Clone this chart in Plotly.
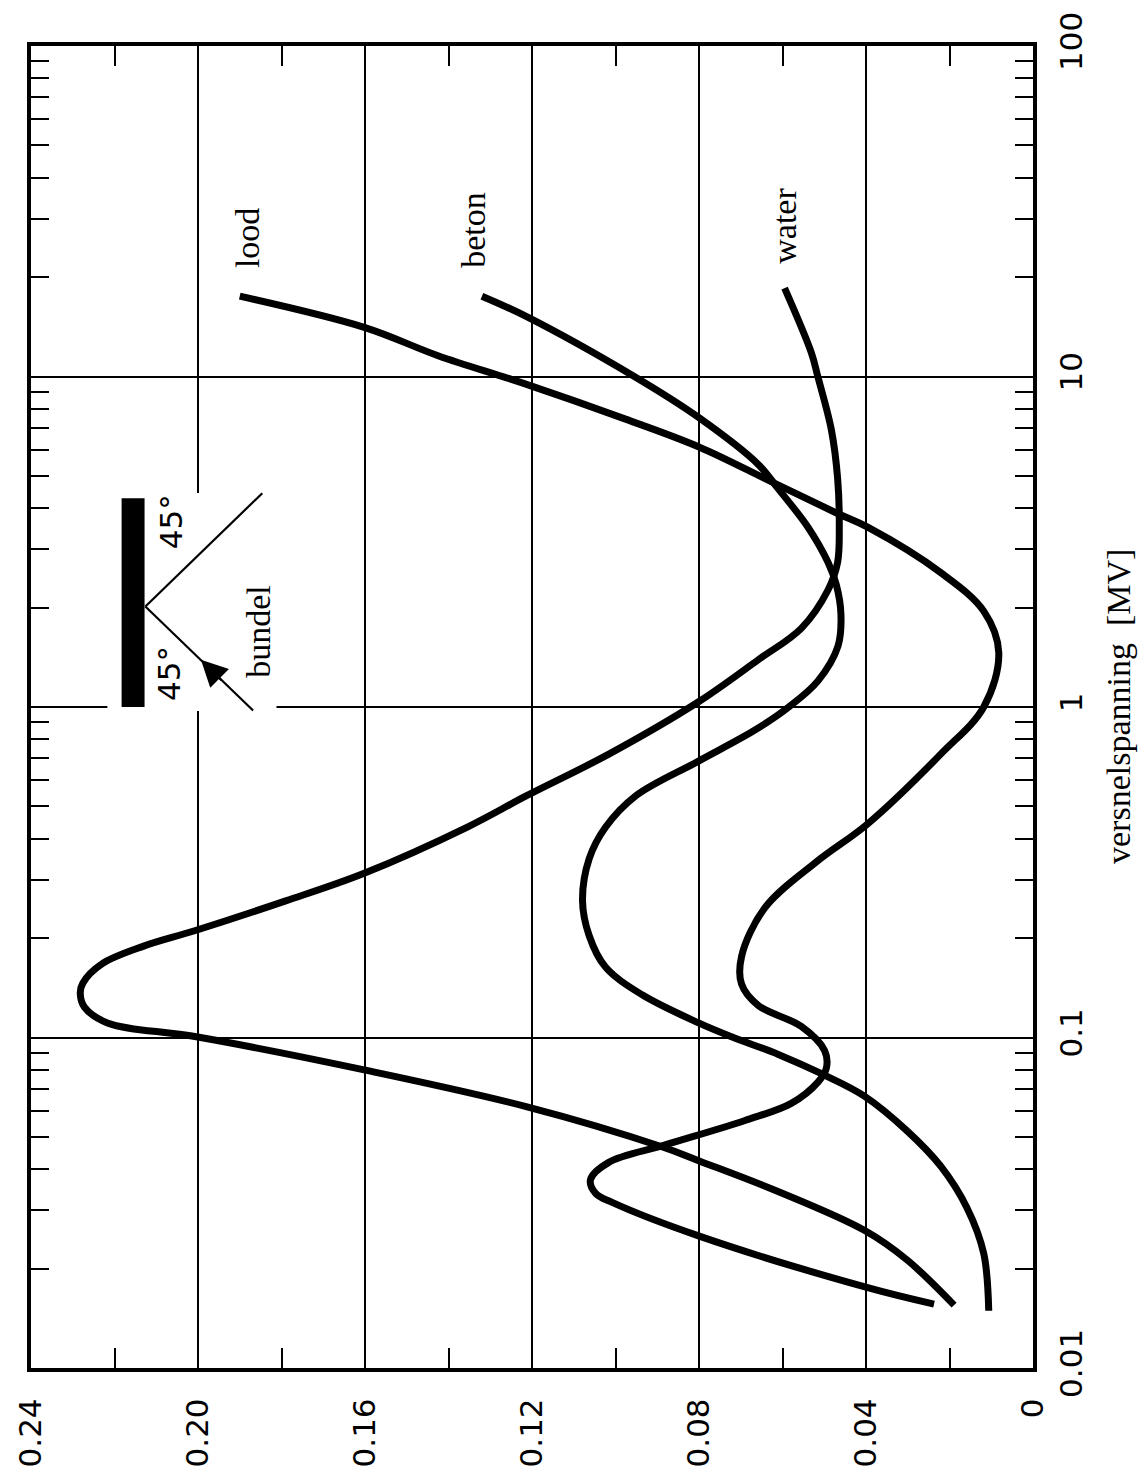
import plotly.graph_objects as go
import math

# Albedo versus accelerating voltage for reflection at 45 degrees in / 45 degrees out
lood_mv = [17.5, 14.06, 11.56, 9.53, 7.43, 6.12, 4.80, 3.85, 3.50, 2.55, 1.95, 1.46,
           1.0, 0.72, 0.443, 0.339, 0.247, 0.176, 0.145, 0.125, 0.108, 0.0912, 0.0807,
           0.0733, 0.0632, 0.0561, 0.0473, 0.0419, 0.0371, 0.0337, 0.0317, 0.0251,
           0.0175, 0.0156]
lood_albedo = [0.190, 0.160, 0.1425, 0.122, 0.0976, 0.080, 0.0626, 0.0468, 0.0396,
               0.0221, 0.0118, 0.0082, 0.0118, 0.0221, 0.0396, 0.0520, 0.0642, 0.0698,
               0.0698, 0.0658, 0.0555, 0.0499, 0.0495, 0.0515, 0.0579, 0.069, 0.0881,
               0.1016, 0.106, 0.1047, 0.1008, 0.0801, 0.0396, 0.0237]

beton_mv = [17.5, 15.2, 9.95, 7.52, 5.42, 4.57, 3.50, 2.74, 2.34, 1.905, 1.53, 1.20,
            1.0, 0.853, 0.686, 0.538, 0.4325, 0.3475, 0.2594, 0.2032, 0.1633, 0.1346,
            0.1107, 0.1005, 0.0889, 0.0769, 0.0665, 0.0521, 0.0408, 0.0305, 0.0222,
            0.0149]
beton_albedo = [0.132, 0.1214, 0.0952, 0.0801, 0.0658, 0.061, 0.0539, 0.0491, 0.0471,
                0.046, 0.0467, 0.0515, 0.0585, 0.0665, 0.0801, 0.0952, 0.1024, 0.1063,
                0.1079, 0.1063, 0.1024, 0.0936, 0.0801, 0.0722, 0.061, 0.0499, 0.0404,
                0.0301, 0.0221, 0.0158, 0.0118, 0.0106]

water_mv = [18.5, 11.8, 9.95, 6.90, 4.92, 3.50, 2.74, 2.26, 1.73, 1.39, 1.037, 0.72,
            0.538, 0.4325, 0.314, 0.259, 0.210, 0.189, 0.167, 0.146, 0.136, 0.1236,
            0.1107, 0.1005, 0.0798, 0.0618, 0.0467, 0.0424, 0.0345, 0.0261, 0.0212,
            0.0155]
water_albedo = [0.0595, 0.0531, 0.0515, 0.0483, 0.0468, 0.0464, 0.0468, 0.0491, 0.0555,
                0.0658, 0.0801, 0.1016, 0.1214, 0.1356, 0.1602, 0.1790, 0.2010, 0.2130,
                0.2230, 0.2276, 0.2282, 0.2272, 0.2217, 0.2004, 0.1602, 0.1214, 0.0889,
                0.0801, 0.0618, 0.0404, 0.0301, 0.0189]

albedo_ticks = [0, 0.04, 0.08, 0.12, 0.16, 0.20, 0.24]
albedo_ticktext = ["0", "0.04", "0.08", "0.12", "0.16", "0.20", "0.24"]
albedo_minor = [0.02, 0.06, 0.10, 0.14, 0.18, 0.22]
voltage_ticks = [0.01, 0.1, 1, 10, 100]
voltage_ticktext = ["0.01", "0.1", "1", "10", "100"]
voltage_minor = [m * d for d in (0.01, 0.1, 1, 10) for m in range(2, 10)]

series = [
    ("lood", lood_mv, lood_albedo),
    ("beton", beton_mv, beton_albedo),
    ("water", water_mv, water_albedo),
]

serif = "Liberation Serif, Times New Roman, serif"
sans = "DejaVu Sans, sans-serif"

fig = go.Figure()
for name, mv, alb in series:
    fig.add_trace(go.Scatter(
        x=alb, y=mv, mode="lines", name=name,
        line=dict(color="black", width=7, shape="spline", smoothing=1.0),
        hoverinfo="skip",
    ))

# Curve labels placed just past the high-voltage end of each curve
label_pos = {"lood": (0.1883, 26.2), "beton": (0.134, 27.7), "water": (0.0595, 28.5)}
annotations = []
for name, (xv, yv) in label_pos.items():
    annotations.append(dict(
        x=xv, y=math.log10(yv), xref="x", yref="y", text=name, showarrow=False,
        textangle=-90, font=dict(family=serif, size=34, color="black"),
        xanchor="center", yanchor="middle",
    ))

# Inset sketch: reflecting slab with incoming and outgoing beam at 45 degrees.
# Positions are (albedo, voltage in MV).
apex = (0.2126, 2.014)
upper_end = (0.1846, 4.436)
lower_end = (0.1868, 0.976)
shapes = [
    dict(type="rect", xref="x", yref="y", x0=0.2217, x1=0.1812, y0=0.973, y1=4.44,
         fillcolor="white", line=dict(width=0), layer="above"),
    dict(type="rect", xref="x", yref="y", x0=0.2183, x1=0.2128, y0=1.0, y1=4.28,
         fillcolor="black", line=dict(width=0), layer="above"),
    dict(type="line", xref="x", yref="y", x0=apex[0], y0=apex[1], x1=upper_end[0],
         y1=upper_end[1], line=dict(color="black", width=2.2), layer="above"),
    dict(type="line", xref="x", yref="y", x0=apex[0], y0=apex[1], x1=lower_end[0],
         y1=lower_end[1], line=dict(color="black", width=2.2), layer="above"),
]
annotations.append(dict(
    x=0.1993, y=0.143, xref="x", yref="y", text="", showarrow=True,
    ax=22, ay=22, arrowhead=2, arrowsize=2.4, arrowwidth=2.2, arrowcolor="black",
))
annotations.append(dict(
    x=0.2064, y=0.560, xref="x", yref="y", text="45°", showarrow=False, textangle=-90,
    font=dict(family=sans, size=31, color="black"), xanchor="center", yanchor="middle",
))
annotations.append(dict(
    x=0.2071, y=0.101, xref="x", yref="y", text="45°", showarrow=False, textangle=-90,
    font=dict(family=sans, size=31, color="black"), xanchor="center", yanchor="middle",
))
annotations.append(dict(
    x=0.1857, y=0.2295, xref="x", yref="y", text="bundel", showarrow=False,
    textangle=-90, font=dict(family=serif, size=34, color="black"),
    xanchor="center", yanchor="middle",
))
# Axis title for the voltage axis on the right
annotations.append(dict(
    x=1, y=0.5, xref="paper", yref="paper", text="versnelspanning\u00a0 [MV]",
    showarrow=False, textangle=-90, xshift=85,
    font=dict(family=serif, size=34, color="black"), xanchor="center", yanchor="middle",
))

fig.update_layout(
    width=1140, height=1479,
    margin=dict(l=24, r=107, t=35, b=102),
    plot_bgcolor="white", paper_bgcolor="white",
    showlegend=False,
    shapes=shapes, annotations=annotations,
    xaxis=dict(
        range=[0.24, 0], tickmode="array", tickvals=albedo_ticks, ticktext=albedo_ticktext,
        tickangle=-90, ticks="inside", ticklen=0, tickcolor="black",
        showgrid=True, gridcolor="black", gridwidth=1.5,
        showline=True, linewidth=4, linecolor="black", mirror="allticks",
        zeroline=False, ticklabelstandoff=14,
        tickfont=dict(family=sans, size=31, color="black"),
        minor=dict(tickmode="array", tickvals=albedo_minor, ticks="inside", ticklen=20,
                   tickwidth=2, tickcolor="black", showgrid=False),
    ),
    yaxis=dict(
        type="log", range=[-2, 2], side="right", tickmode="array",
        tickvals=voltage_ticks, ticktext=voltage_ticktext, tickangle=-90,
        ticks="inside", ticklen=0, tickcolor="black",
        showgrid=True, gridcolor="black", gridwidth=1.5,
        showline=True, linewidth=4, linecolor="black", mirror="allticks",
        zeroline=False, ticklabelstandoff=8,
        tickfont=dict(family=sans, size=31, color="black"),
        minor=dict(tickmode="array", tickvals=voltage_minor, ticks="inside", ticklen=18,
                   tickwidth=2, tickcolor="black", showgrid=False),
    ),
)

fig.write_html("out.html")
